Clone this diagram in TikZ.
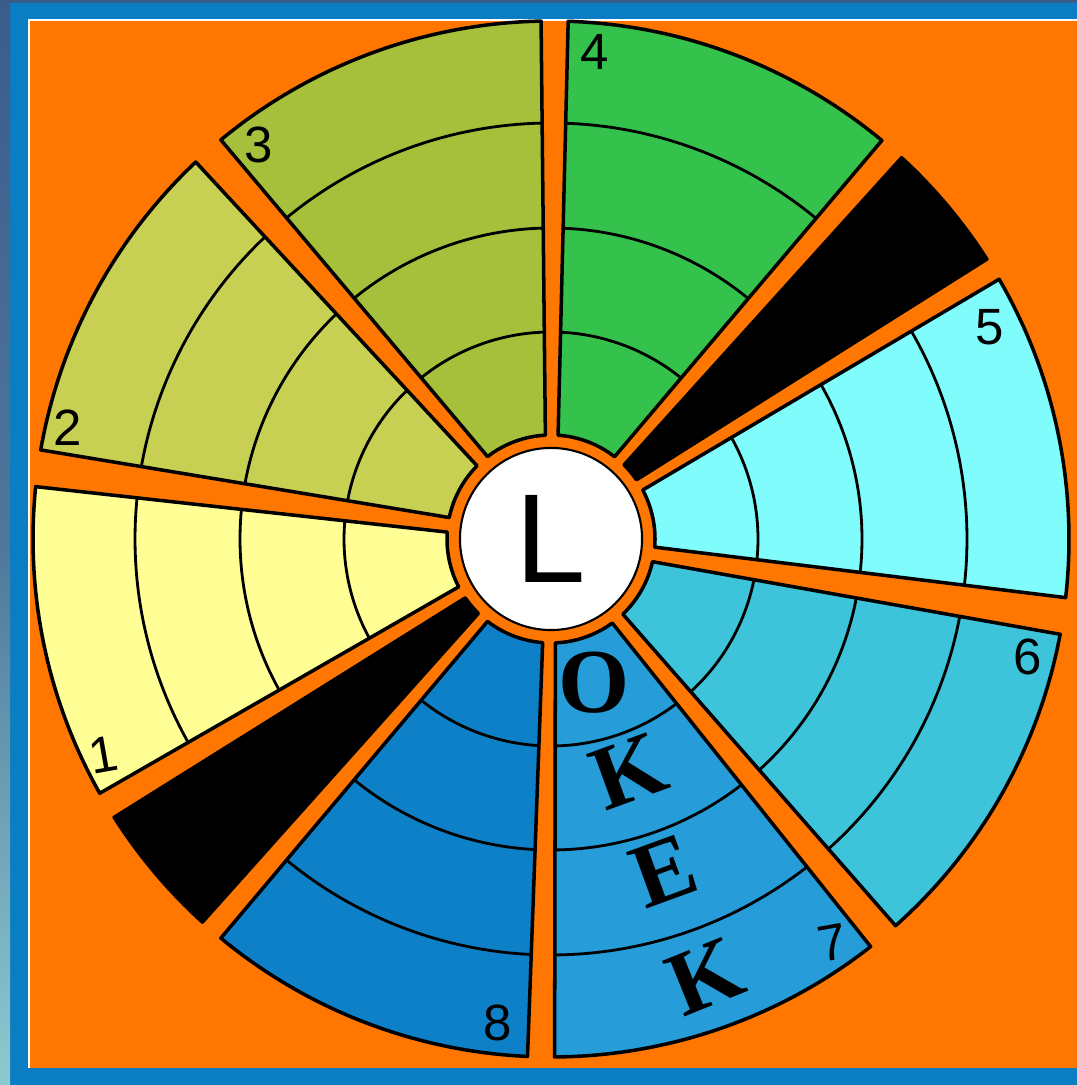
\documentclass[tikz,border=0pt]{standalone}
\usepackage{fontspec}
\setmainfont{Liberation Serif}
\newfontfamily\sansf{Liberation Sans}
\newfontfamily\serifbf{Liberation Serif Bold}
\definecolor{orangebg}{RGB}{255,119,0}
\definecolor{frameblue}{RGB}{10,125,195}
\definecolor{framedark}{RGB}{58,92,138}
\definecolor{framelight}{RGB}{140,202,208}
\definecolor{sa}{RGB}{255,255,150}
\definecolor{sb}{RGB}{200,208,84}
\definecolor{sc}{RGB}{166,192,60}
\definecolor{sd}{RGB}{52,194,76}
\definecolor{se}{RGB}{128,252,252}
\definecolor{sf}{RGB}{62,196,218}
\definecolor{sg}{RGB}{38,156,216}
\definecolor{sh}{RGB}{14,128,200}
\def\secsh{2}
\def\secR{518}
\def\secri{104}
\newcommand{\secpath}[2]{({#1+\secsh}:\secri) -- (#1:\secR) arc[start angle=#1, end angle=#2, radius=\secR] -- ({#2-\secsh}:\secri) arc[start angle={#2-\secsh}, end angle={#1+\secsh}, radius=\secri] -- cycle}
\newcommand{\mysector}[3]{%
  \begin{scope}
    \clip \secpath{#1}{#2};
    \fill[#3] \secpath{#1}{#2};
    \foreach \rr in {207,311,416}
      \draw[ringline] ({#1-5}:\rr) arc[start angle={#1-5}, end angle={#2+5}, radius=\rr];
  \end{scope}
  \draw[secline] \secpath{#1}{#2};
}
\newcommand{\myblack}[2]{%
  \fill[black] \secpath{#1}{#2};
  \draw[secline] \secpath{#1}{#2};
}
\begin{document}
\begin{tikzpicture}[x=0.01cm,y=0.01cm,
  secline/.style={draw=black, line width=1pt, line join=round},
  ringline/.style={draw=black, line width=0.8pt},
  numlbl/.style={font=\sansf\fontsize{14.5}{14.5}\selectfont, inner sep=0pt},
  letlbl/.style={font=\serifbf\fontsize{26}{26}\selectfont, inner sep=0pt},
  hub/.style={circle, draw=black, line width=0.6pt, fill=white, minimum size=1.82cm, inner sep=0pt, font=\sansf\fontsize{36}{36}\selectfont}]
\useasboundingbox (0,0) rectangle (1077,1085);
% frame
\fill[frameblue] (0,0) rectangle (1077,1085);
\shade[top color=framedark, bottom color=framelight, middle color=framedark!75!framelight] (0,0) rectangle (10,1085);
\fill[framedark] (0,1082) rectangle (1077,1085);
\fill[orangebg] (30,17) rectangle (1077,1064);
\draw[white, line width=0.5pt] (29,17) -- (29,1065) -- (1077,1065);
% wheel
\begin{scope}[shift={(551,546)}]
  \mysector{174.2}{209.4}{sa}
  \mysector{133.3}{170.1}{sb}
  \mysector{91.1}{129.6}{sc}
  \mysector{50.3}{88.1}{sd}
  \myblack{32.7}{47.4}
  \mysector{-6.5}{30.1}{se}
  \mysector{-48.3}{-10.6}{sf}
  \mysector{-89.6}{-51.9}{sg}
  \mysector{-129.6}{-92.6}{sh}
  \myblack{-147.5}{-132.3}
  \node[hub] (hub) at (0,0) {L};
\end{scope}
% sector numbers
\node[numlbl, rotate=10] (n1) at (103,330) {1};
\node[numlbl] (n2) at (68,657) {2};
\node[numlbl] (n3) at (259,940) {3};
\node[numlbl] (n4) at (595,1033) {4};
\node[numlbl] (n5) at (990,758) {5};
\node[numlbl] (n6) at (1028,428) {6};
\node[numlbl, rotate=10] (n7) at (832,142) {7};
\node[numlbl] (n8) at (498,62) {8};
% letters
\node[letlbl] (lo) at (594,402) {O};
\node[letlbl, rotate=20] (lk1) at (629,314) {K};
\node[letlbl, rotate=20] (le) at (664,214) {E};
\node[letlbl, rotate=22] (lk2) at (705,109) {K};
\end{tikzpicture}
\end{document}
